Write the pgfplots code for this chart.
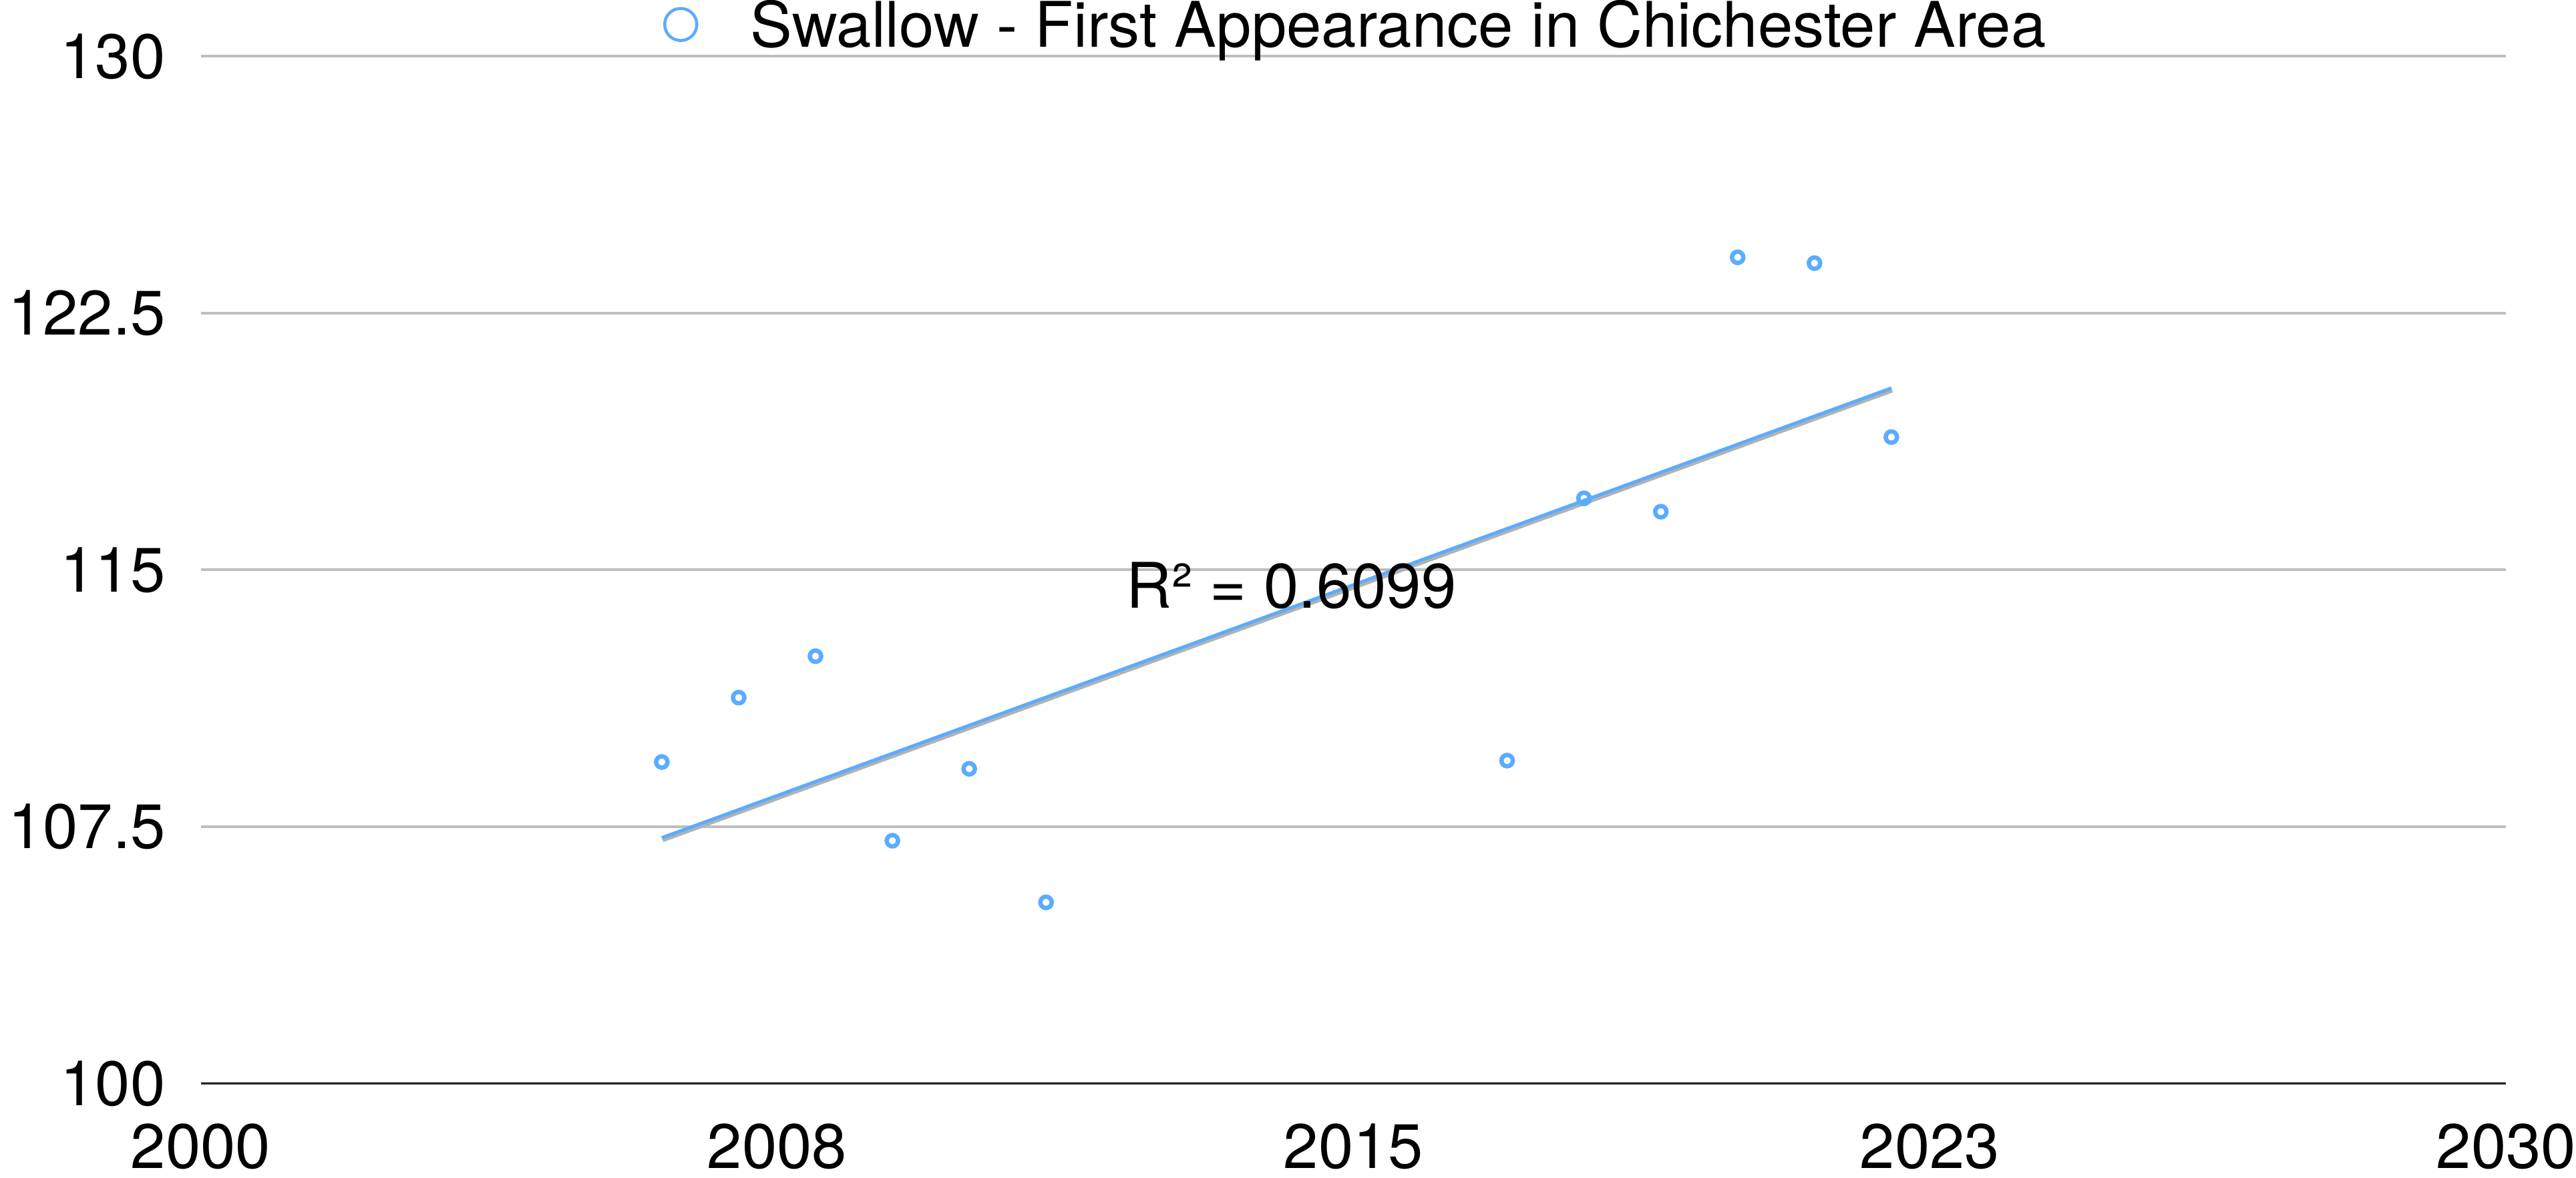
\documentclass[border=0pt]{standalone}
\usepackage{fontspec}
\setmainfont{TeX Gyre Heros}
\usepackage{pgfplots}
\pgfplotsset{compat=1.18}
\definecolor{swblue}{HTML}{5AACFF}
\definecolor{gridgray}{HTML}{BEBEBE}
\begin{document}
\begin{tikzpicture}
\begin{axis}[
  scale only axis, width=344.7pt, height=153.6pt,
  xmin=2000, xmax=2030, ymin=100, ymax=130,
  xtick={2000,2007.5,2015,2022.5,2030},
  xticklabels={2000,2008,2015,2023,2030},
  ytick={100,107.5,115,122.5,130},
  yticklabels={100,107.5,115,122.5,130},
  axis x line*=bottom, axis y line*=left,
  y axis line style={draw=none},
  x axis line style={draw=black!85, line width=0.35pt},
  major tick length=0pt,
  ymajorgrids, grid style={gridgray, line width=0.4pt},
  /pgf/number format/assume math mode=true,
  ticklabel style={font=\fontsize{9.4}{11}\selectfont, inner sep=0pt},
  xticklabel style={inner ysep=1.3pt, yshift=-4.5pt},
  yticklabel style={inner xsep=1.2pt, xshift=-3.9pt},
  legend style={at={(0.5,1)}, anchor=south, draw=none, fill=none,
    font=\fontsize{9.4}{11}\selectfont, inner sep=0pt, yshift=-0.3pt, xshift=0.5pt,
    nodes={inner ysep=0pt}},
  clip=false,
]
\addplot[forget plot, black!30, line width=0.5pt, yshift=-0.4pt, xshift=0.15pt] coordinates {(2006,107.175) (2022,120.309)};
\addplot[forget plot, swblue, line width=0.5pt] coordinates {(2006,107.175) (2022,120.309)};
\addplot[only marks, mark=o, mark size=0.85pt, swblue, line width=0.65pt,
  legend image code/.code={\path[draw=none] (0,0) -- (0.28cm+4.4pt,0); \draw[swblue, line width=0.45pt] (0.14cm,0.6pt) circle (2.4pt);}]
  table {
x y
2006 109.39
2007 111.27
2008 112.48
2009 107.09
2010 109.19
2011 105.29
2017 109.43
2018 117.09
2019 116.70
2020 124.13
2021 123.96
2022 118.88
};
\addlegendentry{Swallow - First Appearance in Chichester Area}
\node[font=\fontsize{9.4}{11}\selectfont] at (axis cs:2014.19,114.55) {R² = 0.6099};
\end{axis}
\end{tikzpicture}
\end{document}
